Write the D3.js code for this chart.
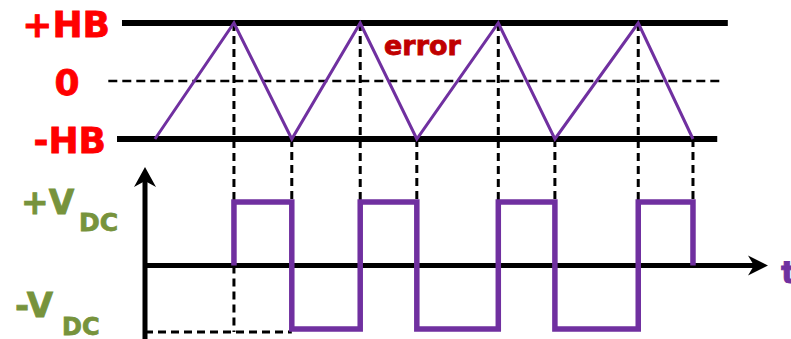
<!DOCTYPE html>
<html>
<head>
<meta charset="utf-8">
<script src="https://cdn.jsdelivr.net/npm/d3@7"></script>
<style>
	body { margin: 0; background: #fff; }
	text { font-family: "DejaVu Sans", Verdana, sans-serif; font-weight: bold; stroke-width: 0.8px; }
</style>
</head>
<body>
<div id="wrapper"></div>
<script>

// 1. Data

// switching instants (time units) = vertices of the error triangle
const switchTimes = [0.16, 1.43, 2.36, 3.46, 4.37, 5.68, 6.59, 7.93, 8.81];
// error value at each instant, in units of HB
const errorValues = [-1, 1, -1, 1, -1, 1, -1, 1, -1];
// inverter output, in units of VDC (step after each point)
const outputTimes = [1.43, 1.43, 2.36, 3.46, 4.37, 5.68, 6.59, 7.93, 8.81];
const outputValues = [0, 1, -1, 1, -1, 1, -1, 1, 0];

const bandLabels = ["+HB", "0", "-HB"];
const bandValues = [1, 0, -1];

// 2. Dimensions

const dimensions = {
	width: 791,
	height: 339
};

const purple = "#7030a0";
const red = "#ff0000";
const olive = "#77933c";

const x = d3.scaleLinear().domain([0, 10]).range([145, 767]);
const yTop = d3.scaleLinear().domain([-1, 1]).range([139, 23]);
const yBot = d3.scaleLinear().domain([-1, 1]).range([329, 202]);

// 3. Static elements

const svg = d3.select("#wrapper")
	.append("svg")
	.attr("width", dimensions.width)
	.attr("height", dimensions.height)
	.attr("class", "main");

// hysteresis band lines
svg.append("line")
	.attr("x1", x(-0.37)).attr("x2", x(9.37))
	.attr("y1", yTop(1)).attr("y2", yTop(1))
	.style("stroke", "black").style("stroke-width", 6);

svg.append("line")
	.attr("x1", x(-0.45)).attr("x2", x(9.2))
	.attr("y1", yTop(-1)).attr("y2", yTop(-1))
	.style("stroke", "black").style("stroke-width", 6);

svg.append("line")
	.attr("x1", x(-0.59)).attr("x2", x(9.28))
	.attr("y1", yTop(0)).attr("y2", yTop(0))
	.style("stroke", "black").style("stroke-width", 2.5)
	.style("stroke-dasharray", "9,5");

// dashed guides from each switching vertex down to +VDC
svg.selectAll("line.guide")
	.data(switchTimes.slice(1))
	.enter()
	.append("line")
	.attr("class", "guide")
	.attr("x1", d => x(d)).attr("x2", d => x(d))
	.attr("y1", (d, i) => yTop(errorValues[i + 1]))
	.attr("y2", yBot(1))
	.style("stroke", "black").style("stroke-width", 3)
	.style("stroke-dasharray", "8,5");

// first switch: guide below the axis and -VDC reference
svg.append("line")
	.attr("x1", x(switchTimes[1])).attr("x2", x(switchTimes[1]))
	.attr("y1", yBot(0)).attr("y2", yBot(-1) + 3)
	.style("stroke", "black").style("stroke-width", 3)
	.style("stroke-dasharray", "8,5");

svg.append("line")
	.attr("x1", x(0)).attr("x2", x(switchTimes[2]))
	.attr("y1", yBot(-1) + 3).attr("y2", yBot(-1) + 3)
	.style("stroke", "black").style("stroke-width", 3)
	.style("stroke-dasharray", "8,5");

// axes
svg.append("line")
	.attr("x1", x(0)).attr("x2", x(0))
	.attr("y1", dimensions.height).attr("y2", 178)
	.style("stroke", "black").style("stroke-width", 5);

svg.append("path")
	.attr("d", `M${x(0)},167 L${x(0) + 11},187 L${x(0)},181 L${x(0) - 11},187 Z`)
	.style("fill", "black");

svg.append("line")
	.attr("x1", x(0) - 2).attr("x2", x(10) - 10)
	.attr("y1", yBot(0)).attr("y2", yBot(0))
	.style("stroke", "black").style("stroke-width", 5);

svg.append("path")
	.attr("d", `M${x(10) + 1},${yBot(0)} L${x(10) - 19},${yBot(0) - 10} L${x(10) - 13},${yBot(0)} L${x(10) - 19},${yBot(0) + 10} Z`)
	.style("fill", "black");

// 4. Series

const errorLine = d3.line()
	.x(d => x(d[0]))
	.y(d => yTop(d[1]));

svg.append("path")
	.datum(d3.zip(switchTimes, errorValues))
	.attr("d", errorLine)
	.style("fill", "none")
	.style("stroke", purple)
	.style("stroke-width", 3)
	.style("stroke-linejoin", "miter");

const outputLine = d3.line()
	.x(d => x(d[0]))
	.y(d => yBot(d[1]))
	.curve(d3.curveStepAfter);

svg.append("path")
	.datum(d3.zip(outputTimes, outputValues))
	.attr("d", outputLine)
	.style("fill", "none")
	.style("stroke", purple)
	.style("stroke-width", 5.5)
	.style("stroke-linejoin", "miter");

// 5. Labels

svg.selectAll("text.band")
	.data(bandLabels)
	.enter()
	.append("text")
	.attr("class", "band")
	.attr("x", (d, i) => i == 1 ? 67 : (i == 0 ? 110 : 106))
	.attr("y", (d, i) => yTop(bandValues[i]) + 14)
	.style("text-anchor", (d, i) => i == 1 ? "middle" : "end")
	.style("font-size", "36px")
	.style("fill", red)
	.style("stroke", red)
	.text(d => d);

svg.append("text")
	.attr("x", 384)
	.attr("y", 55)
	.style("font-size", "27px")
	.style("fill", "#c00000")
	.style("stroke", "#c00000")
	.text("error");

// [main, x, baseline, sub x, main size, sub dy, sub size]
const vdc = [["+V", 21, 214, 79, 33, 17, 25], ["-V", 15, 317, 62, 34, 18, 24]];
vdc.forEach(v => {
	const t = svg.append("text")
		.attr("y", v[2])
		.style("fill", olive)
		.style("stroke", olive);
	t.append("tspan")
		.attr("x", v[1])
		.style("font-size", v[4] + "px")
		.text(v[0]);
	t.append("tspan")
		.attr("x", v[3])
		.attr("dy", v[5])
		.style("font-size", v[6] + "px")
		.text("DC");
});

svg.append("text")
	.attr("x", 781)
	.attr("y", 283)
	.style("font-size", "31px")
	.style("fill", purple)
	.style("stroke", purple)
	.text("t");

</script>
</body>
</html>
